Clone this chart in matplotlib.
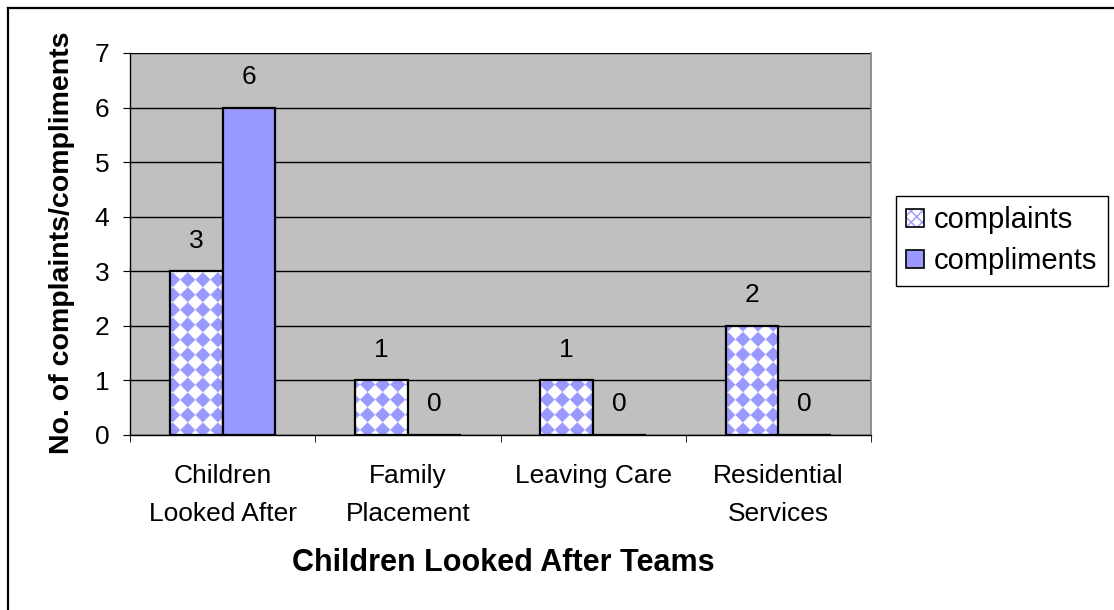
import numpy as np
import matplotlib
matplotlib.use("Agg")
import matplotlib.pyplot as plt
from matplotlib.patches import Patch
from matplotlib.lines import Line2D
from matplotlib.legend_handler import HandlerTuple

# ---- data ----
categories = ["Children\nLooked After", "Family\nPlacement", "Leaving Care", "Residential\nServices"]
complaints = [3, 1, 1, 2]
compliments = [6, 0, 0, 0]
series_names = ["complaints", "compliments"]
yticks = [0, 1, 2, 3, 4, 5, 6, 7]

plt.rcParams['font.family'] = ['Liberation Sans', 'DejaVu Sans']
FS = 19
BLUE = '#9999FF'

W, H = 1114, 610
fig = plt.figure(figsize=(W / 100, H / 100), dpi=100)
L, R, T, B = 130, 871, 53, 435
ax = fig.add_axes([L / W, 1 - B / H, (R - L) / W, (B - T) / H])
ax.set_facecolor('#C0C0C0')

x = np.arange(len(categories))
bw = 0.285
ax.set_xlim(-0.5, len(categories) - 0.5)
ax.set_ylim(0, 7)

# grid
ax.set_yticks(yticks)
ax.yaxis.grid(True, color='black', linewidth=1.0)
ax.set_axisbelow(True)

# bars
b1 = ax.bar(x - bw / 2, complaints, width=bw, facecolor='none', edgecolor='black',
            linewidth=1.6, zorder=4)
b2 = ax.bar(x + bw / 2, compliments, width=bw, facecolor=BLUE, edgecolor='black',
            linewidth=1.6, zorder=4)

# diamond pattern fill for complaint bars
p = 15.0
for rect in b1:
    x0, y0 = rect.get_x(), rect.get_y()
    x1, y1 = x0 + rect.get_width(), y0 + rect.get_height()
    if y1 <= y0:
        continue
    (px0, py0), (px1, py1) = ax.transData.transform([(x0, y0), (x1, y1)])
    ss = 3
    nx = max(int(round((px1 - px0) * ss)), 1)
    ny = max(int(round((py1 - py0) * ss)), 1)
    xs = px0 + (np.arange(nx) + 0.5) / ss
    ys = py1 - (np.arange(ny) + 0.5) / ss
    XX, YY = np.meshgrid(xs, ys)
    u = XX + YY
    v = XX - YY
    mask = ((np.floor(u / p) + np.floor(v / p)) % 2 == 0)
    img = np.ones((ny, nx, 3))
    col = np.array(matplotlib.colors.to_rgb(BLUE))
    img[mask] = col
    ax.imshow(img, extent=(x0, x1, y0, y1), aspect='auto', interpolation='antialiased',
              zorder=3)
ax.set_xlim(-0.5, len(categories) - 0.5)
ax.set_ylim(0, 7)

# value labels
for rects, vals in ((b1, complaints), (b2, compliments)):
    for rect, v in zip(rects, vals):
        ax.annotate(f"{v}", (rect.get_x() + rect.get_width() / 2, v),
                    xytext=(0, 22), textcoords='offset points',
                    ha='center', va='center', fontsize=FS, zorder=6)

# axes styling
ax.spines['top'].set_visible(False)
ax.spines['right'].set_color('#808080')
ax.spines['right'].set_linewidth(1.2)
ax.spines['left'].set_color('black')
ax.spines['bottom'].set_color('black')
ax.spines['left'].set_linewidth(1.0)
ax.spines['bottom'].set_linewidth(1.0)

ax.set_xticks(x)
ax.set_xticklabels(categories, fontsize=FS, linespacing=1.73)
ax.set_xticks(np.arange(len(categories) + 1) - 0.5, minor=True)
ax.tick_params(axis='x', which='major', length=0, pad=21)
ax.tick_params(axis='x', which='minor', length=5, direction='out', color='black')
ax.tick_params(axis='y', length=5, direction='out', color='black', labelsize=FS, pad=10)

ax.set_ylabel("No. of complaints/compliments", fontsize=20.5, fontweight='bold', va='center')
ax.yaxis.set_label_coords((62 - L) / (R - L), (B - 243) / (B - T))
ax.set_xlabel("Children Looked After Teams", fontsize=22, fontweight='bold', va='center')
ax.xaxis.set_label_coords((503 - L) / (R - L), (B - 563) / (B - T))

# legend
h1 = (Patch(facecolor='white', edgecolor=BLUE, hatch='xxx', linewidth=0),
      Patch(facecolor='none', edgecolor='black', linewidth=1.2))
h2 = Patch(facecolor=BLUE, edgecolor='black', linewidth=1.2)
leg = fig.legend([h1, h2], series_names, handler_map={tuple: HandlerTuple(ndivide=1)},
                 loc='upper left', bbox_to_anchor=(896 / W, 1 - 196 / H),
                 fontsize=21, frameon=True, fancybox=False, framealpha=1,
                 edgecolor='black', handlelength=0.6, handleheight=0.6,
                 handletextpad=0.35, borderpad=0.35, labelspacing=0.45, borderaxespad=0)
leg.get_frame().set_linewidth(1.0)

# figure border (top and left)
fig.add_artist(Line2D([8 / W, 1], [1 - 8 / H, 1 - 8 / H], transform=fig.transFigure,
                      color='black', linewidth=1.6))
fig.add_artist(Line2D([8 / W, 8 / W], [0, 1 - 8 / H], transform=fig.transFigure,
                      color='black', linewidth=1.6))

fig.savefig("out.png", dpi=100, facecolor='white')
